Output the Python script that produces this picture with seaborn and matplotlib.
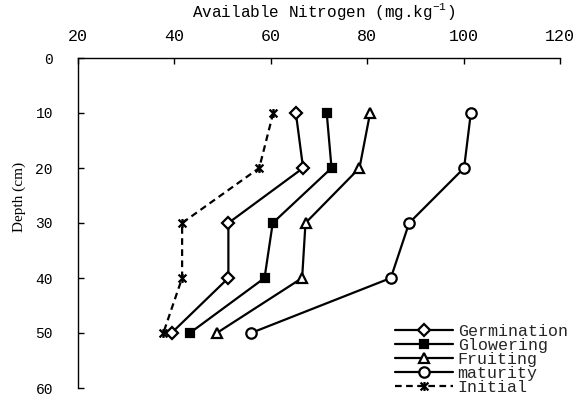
import matplotlib
matplotlib.use("Agg")
import matplotlib.pyplot as plt
from matplotlib.path import Path
import seaborn as sns
import pandas as pd

# Soil depth (cm) and available nitrogen (mg/kg) for each growth stage
depth = [10, 20, 30, 40, 50]
germination = [65.2, 66.7, 51.2, 51.2, 39.4]
glowering = [71.6, 72.6, 60.4, 58.7, 43.2]
fruiting = [80.6, 78.4, 67.2, 66.5, 48.8]
maturity = [101.5, 100.1, 88.7, 84.9, 55.9]
initial = [60.5, 57.6, 41.6, 41.6, 37.7]

stage_names = ["Germination", "Glowering", "Fruiting", "maturity", "Initial"]
x_ticks = [20, 40, 60, 80, 100, 120]
y_ticks = [0, 10, 20, 30, 40, 50, 60]

sns.set_style("ticks")
plt.rcParams["font.family"] = ["Liberation Mono", "DejaVu Sans Mono"]
plt.rcParams["mathtext.default"] = "regular"

# star marker: an X with a vertical bar through it
star = Path([(-1, -1), (1, 1), (-1, 1), (1, -1), (0, -1.15), (0, 1.15)],
            [Path.MOVETO, Path.LINETO, Path.MOVETO, Path.LINETO,
             Path.MOVETO, Path.LINETO])

styles = {
    "Germination": dict(marker="D", ms=6, mfc="white", ls="-"),
    "Glowering": dict(marker="s", ms=5.5, mfc="black", ls="-"),
    "Fruiting": dict(marker="^", ms=7.5, mfc="white", ls="-"),
    "maturity": dict(marker="o", ms=7.5, mfc="white", ls="-"),
    "Initial": dict(marker=star, ms=6.5, mfc="none", ls=(0, (3, 2))),
}

series = dict(zip(stage_names, [germination, glowering, fruiting, maturity, initial]))

fig = plt.figure(figsize=(5.79, 4.01), dpi=100)
ax = fig.add_axes([78 / 579, 1 - 388 / 401, (560 - 78) / 579, (388 - 58) / 401])

for name in stage_names:
    df = pd.DataFrame({"N": series[name], "Depth": depth})
    st = styles[name]
    sns.lineplot(data=df, x="N", y="Depth", orient="y", sort=False, ax=ax,
                 color="black", lw=1.6, marker=st["marker"], ms=st["ms"],
                 markerfacecolor=st["mfc"], markeredgecolor="black",
                 markeredgewidth=1.6, linestyle=st["ls"], label=name)

ax.set_xlim(20, 120)
ax.set_ylim(60, 0)
ax.set_xticks(x_ticks)
ax.set_yticks(y_ticks)

ax.xaxis.tick_top()
ax.xaxis.set_label_position("top")
for side in ("right", "bottom"):
    ax.spines[side].set_visible(False)
for side in ("left", "top"):
    ax.spines[side].set_linewidth(1.0)
    ax.spines[side].set_color("black")

ax.tick_params(axis="x", direction="in", length=4, width=1, pad=10,
               labelsize=12, colors="black")
ax.tick_params(axis="y", direction="in", length=4, width=1, pad=18,
               labelsize=10.5, colors="black")

ax.set_xlabel("Available Nitrogen (mg.kg$^{-1}$)", fontsize=11.5, color="black")
ax.xaxis.set_label_coords(0.51, 1.125)
ax.set_ylabel("Depth (cm)", fontsize=11, family="Liberation Serif", color="black")
ax.yaxis.set_label_coords(-0.107, 0.58)

handles, labels = ax.get_legend_handles_labels()
leg = ax.legend(handles, labels, loc="upper left", bbox_to_anchor=(0.658, 0.195),
                frameon=False, fontsize=12, borderpad=0, labelspacing=-0.05,
                handlelength=3.5, handletextpad=0.25, borderaxespad=0)

fig.savefig("out.png", dpi=100)
